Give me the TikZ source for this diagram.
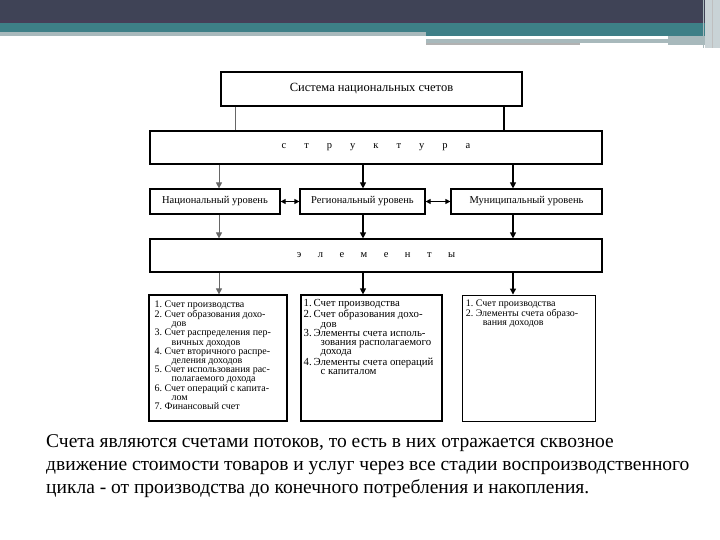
\documentclass[tikz,border=0pt]{standalone}
\usepackage{fontspec}
\setmainfont{Liberation Serif}
\usetikzlibrary{arrows.meta}
\definecolor{hdark}{HTML}{3F4356}
\definecolor{hpurp}{HTML}{463F58}
\definecolor{hteal}{HTML}{3E7F87}
\definecolor{hgrey}{HTML}{A8B9BC}
\definecolor{hlight}{HTML}{C9D3D6}
\begin{document}
\begin{tikzpicture}[x=1pt,y=-1pt,
  box/.style={draw=black,line width=1.2pt,inner sep=0pt,font=\fontsize{10.5}{12}\selectfont},
  lst/.style={anchor=north west,inner sep=0pt,align=left,font=\fontsize{10}{9.2}\selectfont},
  con/.style={line width=1.2pt,black},
  conl/.style={line width=0.8pt,black!60},
  arr/.style={-{Triangle[length=6pt,width=6pt]}},
  darr/.style={{Triangle[length=5pt,width=5pt]}-{Triangle[length=5pt,width=5pt]}},
  bottomtext/.style={anchor=north west,inner sep=0pt,align=left,font=\fontsize{19.5}{23}\selectfont}]
\useasboundingbox (0,0) rectangle (720,540);
\fill[white] (0,0) rectangle (720,540);
% header
\fill[hdark] (0,0) rectangle (720,20);
\fill[hpurp] (0,20) rectangle (720,23);
\fill[hteal] (0,23) rectangle (720,32);
\fill[hgrey] (0,32) rectangle (426,36);
\fill[hteal] (426,32) rectangle (705,36);
\fill[hgrey] (668,36) rectangle (705,45);
\fill[hgrey] (426,39) rectangle (668,43);
\fill[gray!60] (426,43) rectangle (580,45);
\fill[hlight] (705,0) rectangle (720,48);
\draw[hgrey,line width=1pt] (703,0) -- (703,48);
\draw[gray!50,line width=0.8pt] (712,0) -- (712,48);
% boxes
\node[box,minimum width=301pt,minimum height=34pt,font=\fontsize{12.5}{14}\selectfont] (top) at (371.5,89) {Система национальных счетов};
\node[box,minimum width=452pt,minimum height=33pt] (str) at (376,147.5)
  {с\hspace{18pt}т\hspace{18pt}р\hspace{18pt}у\hspace{18pt}к\hspace{18pt}т\hspace{18pt}у\hspace{18pt}р\hspace{18pt}а};
\node[box,minimum width=130pt,minimum height=25pt] (nat) at (215,201.5) {Национальный уровень};
\node[box,minimum width=125pt,minimum height=25pt] (reg) at (362.5,201.5) {Региональный уровень};
\node[box,minimum width=151pt,minimum height=25pt] (mun) at (526.5,201.5) {Муниципальный уровень};
\node[box,minimum width=452pt,minimum height=33pt] (el) at (376,255.5)
  {э\hspace{16.5pt}л\hspace{16.5pt}е\hspace{16.5pt}м\hspace{16.5pt}е\hspace{16.5pt}н\hspace{16.5pt}т\hspace{16.5pt}ы};
\node[box,minimum width=138pt,minimum height=126pt] (l1) at (218,358) {};
\node[box,minimum width=141pt,minimum height=126pt] (l2) at (371.5,358) {};
\node[box,line width=0.9pt,minimum width=133pt,minimum height=126pt] (l3) at (528.5,358) {};
% list texts
\newcommand{\nm}[1]{\makebox[10pt][l]{#1}}
\newcommand{\ct}{\hspace{17pt}}
\node[lst] (t1) at ([xshift=6pt,yshift=-6pt]l1.north west) {%
\nm{1.}Счет производства\\
\nm{2.}Счет образования дохо-\\
\ct дов\\
\nm{3.}Счет распределения пер-\\
\ct вичных доходов\\
\nm{4.}Счет вторичного распре-\\
\ct деления доходов\\
\nm{5.}Счет использования рас-\\
\ct полагаемого дохода\\
\nm{6.}Счет операций с капита-\\
\ct лом\\
\nm{7.}Финансовый счет};
\node[lst,font=\fontsize{10.8}{9.3}\selectfont] (t2) at ([xshift=3pt,yshift=-5pt]l2.north west) {%
\nm{1.}Счет производства\\
\nm{2.}Счет образования дохо-\\
\ct дов\\
\nm{3.}Элементы счета исполь-\\
\ct зования располагаемого\\
\ct дохода\\
\nm{4.}Элементы счета операций\\
\ct с капиталом};
\node[lst] (t3) at ([xshift=4pt,yshift=-5pt]l3.north west) {%
\nm{1.}Счет производства\\
\nm{2.}Элементы счета образо-\\
\ct вания доходов};
% connectors
\coordinate (ca) at (235,0);
\coordinate (cb) at (504,0);
\coordinate (x1) at (219,0);
\coordinate (x2) at (363,0);
\coordinate (x3) at (513,0);
\draw[conl] (ca |- top.south) -- (ca |- str.north);
\draw[con] (cb |- top.south) -- (cb |- str.north);
\draw[conl,arr] (x1 |- str.south) -- (x1 |- nat.north);
\draw[con,arr] (x2 |- str.south) -- (x2 |- reg.north);
\draw[con,arr] (x3 |- str.south) -- (x3 |- mun.north);
\draw[conl,arr] (x1 |- nat.south) -- (x1 |- el.north);
\draw[con,arr] (x2 |- reg.south) -- (x2 |- el.north);
\draw[con,arr] (x3 |- mun.south) -- (x3 |- el.north);
\draw[conl,arr] (x1 |- el.south) -- (x1 |- l1.north);
\draw[con,arr] (x2 |- el.south) -- (x2 |- l2.north);
\draw[con,arr] (x3 |- el.south) -- (x3 |- l3.north);
\draw[con,darr] (nat.east) -- (reg.west);
\draw[con,darr] (reg.east) -- (mun.west);
% bottom text
\node[bottomtext] (txt) at (46,434) {Счета являются счетами потоков, то есть в них отражается сквозное\\
движение стоимости товаров и услуг через все стадии воспроизводственного\\
цикла - от производства до конечного потребления и накопления.};
\end{tikzpicture}
\end{document}
